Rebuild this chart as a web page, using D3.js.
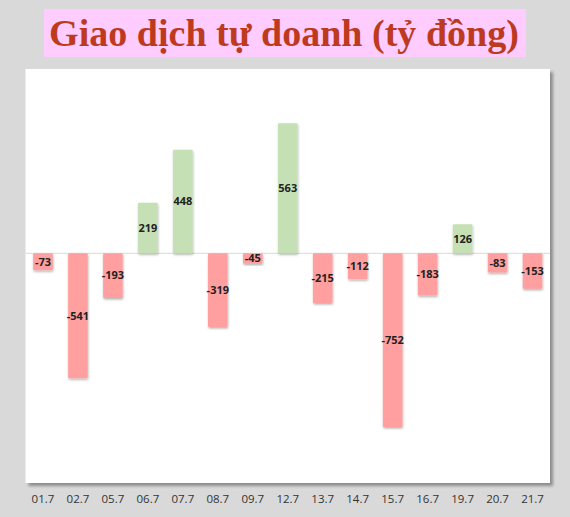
<!DOCTYPE html>
<html>
<head>
<meta charset="utf-8">
<script src="https://cdn.jsdelivr.net/npm/d3@7"></script>
<style>
  body { margin: 0; background: #d9d9d9; }
</style>
</head>
<body>
<script>
const days = ['01.7','02.7','05.7','06.7','07.7','08.7','09.7','12.7','13.7','14.7','15.7','16.7','19.7','20.7','21.7']
const values = [-73, -541, -193, 219, 448, -319, -45, 563, -215, -112, -752, -183, 126, -83, -153]
const title = 'Giao dịch tự doanh (tỷ đồng)'

function main(){
    const width = 570, height = 517
    const plot = {left: 25.5, top: 69, right: 550, bottom: 483}

    let svg = d3.select('body').append('svg')
        .attr('width', width)
        .attr('height', height)
        .style('display', 'block')

    let defs = svg.append('defs')
    let sh = defs.append('filter').attr('id', 'shadow')
        .attr('x', '-10%').attr('y', '-10%').attr('width', '120%').attr('height', '120%')
    sh.append('feDropShadow').attr('dx', 3).attr('dy', 3).attr('stdDeviation', 1.5)
        .attr('flood-color', '#000').attr('flood-opacity', 0.35)
    let bsh = defs.append('filter').attr('id', 'barshadow')
        .attr('x', '-20%').attr('y', '-20%').attr('width', '140%').attr('height', '140%')
    bsh.append('feDropShadow').attr('dx', 0.5).attr('dy', 1.5).attr('stdDeviation', 1)
        .attr('flood-color', '#000').attr('flood-opacity', 0.3)

    svg.append('rect').attr('width', width).attr('height', height).attr('fill', '#d9d9d9')

    // title box
    svg.append('rect')
        .attr('x', 44).attr('y', 9)
        .attr('width', 482).attr('height', 48)
        .attr('fill', '#ffccff')
    let t = svg.append('text')
        .attr('x', 284).attr('y', 46)
        .attr('text-anchor', 'middle')
        .attr('font-family', '"Liberation Serif", "Times New Roman", serif')
        .attr('font-weight', 'bold')
        .attr('font-size', 36)
        .attr('fill', '#bd3a1f')
        .text(title)
    let tw = t.node().getComputedTextLength()
    t.attr('font-size', 36 * 470 / tw)

    // plot area
    svg.append('rect')
        .attr('x', plot.left).attr('y', plot.top)
        .attr('width', plot.right - plot.left).attr('height', plot.bottom - plot.top)
        .attr('fill', 'white')
        .attr('filter', 'url(#shadow)')

    let x = d3.scaleBand()
        .domain(days)
        .range([plot.left, plot.right])
        .paddingInner(0.44)
        .paddingOuter(0.22)

    let y = d3.scaleLinear()
        .domain([-800, 600])
        .range([253.3 + 800 * 0.231, 253.3 - 600 * 0.231])

    // zero line
    svg.append('line')
        .attr('x1', plot.left).attr('x2', plot.right)
        .attr('y1', y(0)).attr('y2', y(0))
        .attr('stroke', '#d9d9d9').attr('stroke-width', 1)

    let g = svg.append('g')
    g.selectAll('rect')
        .data(values)
        .enter()
        .append('rect')
        .attr('x', (d, i) => x(days[i]))
        .attr('y', d => y(Math.max(0, d)))
        .attr('width', x.bandwidth())
        .attr('height', d => Math.abs(y(d) - y(0)))
        .attr('rx', 1)
        .attr('fill', d => d >= 0 ? '#c5e0b4' : '#ff9f9f')
        .attr('filter', 'url(#barshadow)')

    g.selectAll('text')
        .data(values)
        .enter()
        .append('text')
        .attr('x', (d, i) => x(days[i]) + x.bandwidth() / 2)
        .attr('y', d => (y(d) + y(0)) / 2)
        .attr('dy', '0.35em')
        .attr('text-anchor', 'middle')
        .attr('font-family', '"Open Sans", "DejaVu Sans", sans-serif')
        .attr('font-weight', 'bold')
        .attr('font-size', 11)
        .attr('fill', '#222')
        .text(d => d)

    // category labels
    let xAxis = svg.append('g')
        .attr('transform', `translate(0, ${499})`)
    xAxis.selectAll('text')
        .data(days)
        .enter()
        .append('text')
        .attr('x', d => x(d) + x.bandwidth() / 2)
        .attr('dy', '0.35em')
        .attr('text-anchor', 'middle')
        .attr('font-family', '"Open Sans", "DejaVu Sans", sans-serif')
        .attr('font-size', 11.5)
        .attr('fill', '#333')
        .text(d => d)
}

main()
</script>
</body>
</html>
